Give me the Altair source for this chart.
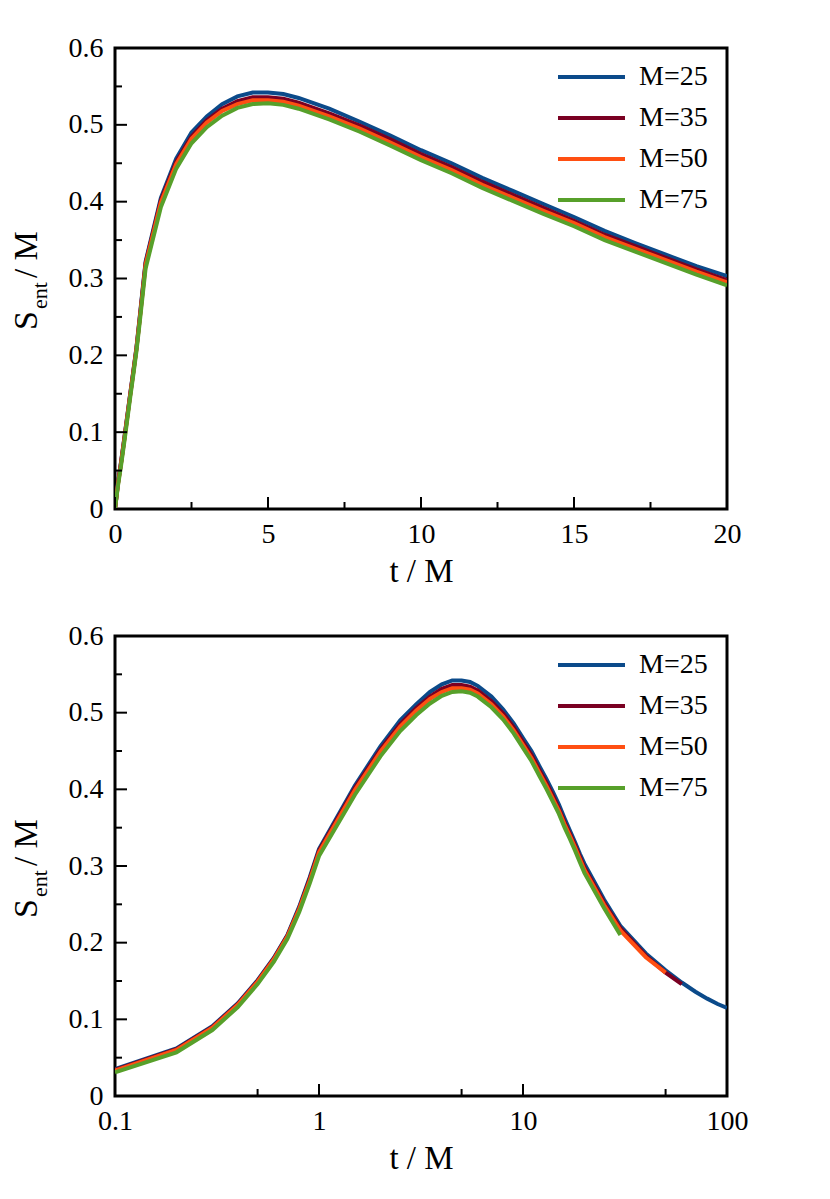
import altair as alt
import pandas as pd

FONT = "Liberation Serif"

T = [0, 0.1, 0.2, 0.3, 0.4, 0.5, 0.6, 0.7, 0.8, 0.9, 1, 1.5, 2, 2.5, 3, 3.5, 4, 4.5, 5, 5.5,
     6, 7, 8, 9, 10, 11, 12, 13, 14, 15, 16, 17, 18, 19, 20, 25, 30, 40, 50, 60, 70, 80, 90, 100]

S25 = [0, .035, .062, .091, .121, .151, .180, .210, .247, .285, .322, .405, .456, .490, .511, .527,
       .537, .542, .542, .540, .535, .521, .504, .486, .467, .450, .431, .414, .397, .380, .362,
       .346, .331, .316, .303, .256, .222, .186, .164, .148, .136, .127, .120, .115]
S35 = [0, .034, .061, .090, .120, .150, .179, .209, .245, .283, .320, .402, .452, .485, .506, .521,
       .531, .536, .536, .534, .529, .515, .499, .481, .462, .445, .426, .409, .392, .375, .357,
       .342, .327, .312, .298, .252, .219, .183, .161, .146]
S50 = [0, .033, .060, .089, .119, .149, .178, .208, .244, .281, .318, .399, .449, .482, .503, .518,
       .527, .532, .532, .530, .525, .511, .495, .477, .458, .441, .422, .405, .388, .372, .354,
       .339, .324, .309, .295, .249, .216, .181, .161]
S75 = [0, .031, .057, .086, .116, .146, .175, .205, .240, .277, .313, .393, .443, .476, .497, .512,
       .522, .527, .528, .526, .521, .507, .491, .473, .454, .437, .418, .401, .384, .368, .350,
       .335, .320, .305, .291, .245, .210]

SERIES = ["M=25", "M=35", "M=50", "M=75"]
COLORS = ["#0b4a8a", "#7a0022", "#ff4f12", "#57a02a"]

TOP_X_MAJOR = [0, 5, 10, 15, 20]
TOP_X_MINOR = [2.5, 7.5, 12.5, 17.5]
LOG_X_MAJOR = [0.1, 1, 10, 100]
LOG_X_MINOR = [0.5, 5, 50]
Y_MAJOR = [0, 0.1, 0.2, 0.3, 0.4, 0.5, 0.6]
Y_MINOR = [0.05, 0.15, 0.25, 0.35, 0.45, 0.55]

rows = []
for name, vals in zip(SERIES, [S25, S35, S50, S75]):
    for t, s in zip(T, vals):
        rows.append({"t": t, "S": s, "series": name})
df = pd.DataFrame(rows)

W = 612


def panel(h, xscale, xmajor, xminor, data):
    legend = alt.Legend(title=None, orient="none", legendX=457.5, legendY=10,
                        symbolType="M-2,0H2", symbolSize=1122, symbolStrokeWidth=4,
                        symbolOpacity=1, labelFont=FONT, labelFontSize=28, labelColor="black",
                        labelOffset=28.5, rowPadding=8, padding=0)
    lines = alt.Chart(data).mark_line(strokeWidth=4, clip=True).encode(
        x=alt.X("t:Q", scale=xscale,
                axis=alt.Axis(values=xmajor, format="~g", title="t / M")),
        y=alt.Y("S:Q", scale=alt.Scale(domain=[0, 0.6], nice=False, zero=False),
                axis=alt.Axis(values=Y_MAJOR, format="~g", title=None)),
        color=alt.Color("series:N", scale=alt.Scale(domain=SERIES, range=COLORS), legend=legend),
    )
    xmaj = alt.Chart(pd.DataFrame({"t": xmajor})).mark_rule(color="black", strokeWidth=2).encode(
        x="t:Q", y=alt.value(h), y2=alt.value(h - 12))
    xmin = alt.Chart(pd.DataFrame({"t": xminor})).mark_rule(color="black", strokeWidth=2).encode(
        x="t:Q", y=alt.value(h), y2=alt.value(h - 7))
    ymaj = alt.Chart(pd.DataFrame({"S": Y_MAJOR})).mark_rule(color="black", strokeWidth=2).encode(
        y="S:Q", x=alt.value(0), x2=alt.value(12))
    ymin = alt.Chart(pd.DataFrame({"S": Y_MINOR})).mark_rule(color="black", strokeWidth=2).encode(
        y="S:Q", x=alt.value(0), x2=alt.value(7))

    def txt(s, size, x, y):
        return alt.Chart(pd.DataFrame({"s": [s]})).mark_text(
            text=s, font=FONT, fontSize=size, angle=270, align="left",
            baseline="alphabetic", color="black").encode(x=alt.value(x), y=alt.value(y))

    t1 = txt("S", 34, -78, 282)
    t2 = txt("ent", 22, -68, 261)
    t3 = txt("/ M", 33, -78, 230)
    return alt.layer(lines, xmaj, xmin, ymaj, ymin, t1, t2, t3).properties(width=W, height=h)


top = panel(461, alt.Scale(domain=[0, 20], nice=False, zero=False),
            TOP_X_MAJOR, TOP_X_MINOR,
            alt.Data(values=df[df.t <= 20].to_dict("records")))
bottom = panel(460, alt.Scale(type="log", domain=[0.1, 100], nice=False),
               LOG_X_MAJOR, LOG_X_MINOR,
               alt.Data(values=df[df.t > 0].to_dict("records")))

chart = alt.vconcat(top, bottom, spacing=30).resolve_scale(
    x="independent", y="independent", color="independent"
).resolve_legend(color="independent").configure_view(
    stroke="black", strokeWidth=3
).configure_axis(
    domain=False, ticks=False, grid=False, labelFont=FONT, labelFontSize=28,
    labelColor="black", titleFont=FONT, titleFontSize=33, titleFontWeight="normal",
    titleColor="black", labelFlush=False, labelOverlap=False
).configure_axisX(labelPadding=11, titlePadding=7).configure_axisY(labelPadding=12).properties(
    padding={"left": 0, "top": 24, "right": 5, "bottom": 5}
)

chart.save("out.html", embed_options={"renderer": "svg", "actions": False})
